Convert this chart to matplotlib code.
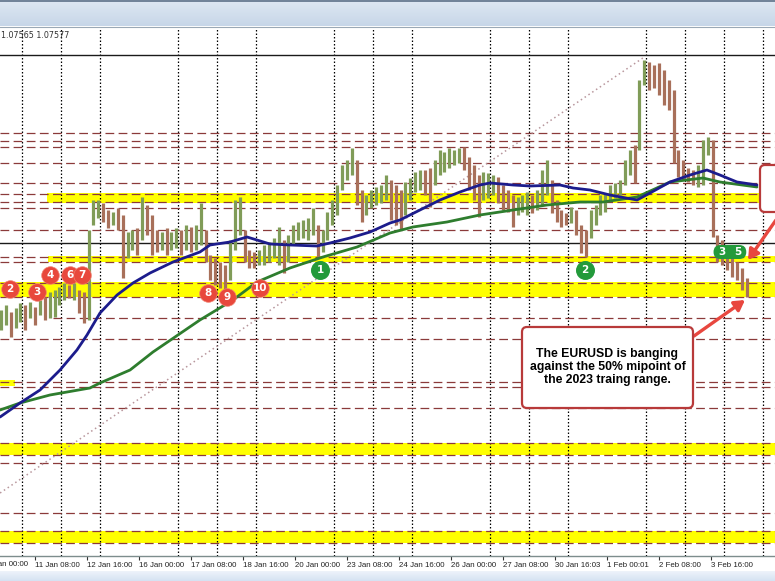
import numpy as np
import matplotlib
matplotlib.use("Agg")
import matplotlib.pyplot as plt
from matplotlib.patches import FancyBboxPatch
from matplotlib.ticker import MultipleLocator
from matplotlib.transforms import IdentityTransform

# ---------------- data (H1 EURUSD, sampled every 3 bars) ----------------
bar_high = [1.0790, 1.0795, 1.0788, 1.0792, 1.0797, 1.0795, 1.0798, 1.0793, 1.0800, 1.0803,
            1.0808, 1.0810, 1.0813, 1.0817, 1.0815, 1.0817, 1.0810, 1.0808, 1.0870, 1.0900,
            1.0900, 1.0897, 1.0890, 1.0888, 1.0892, 1.0885, 1.0868, 1.0870, 1.0872, 1.0903,
            1.0895, 1.0885, 1.0870, 1.0868, 1.0872, 1.0868, 1.0872, 1.0870, 1.0875, 1.0873,
            1.0875, 1.0897, 1.0870, 1.0845, 1.0842, 1.0838, 1.0835, 1.0860, 1.0900, 1.0903,
            1.0870, 1.0850, 1.0848, 1.0850, 1.0855, 1.0858, 1.0862, 1.0873, 1.0860, 1.0865,
            1.0875, 1.0878, 1.0880, 1.0882, 1.0892, 1.0875, 1.0870, 1.0888, 1.0900, 1.0915,
            1.0935, 1.0940, 1.0952, 1.0940, 1.0910, 1.0905, 1.0910, 1.0913, 1.0915, 1.0925,
            1.0920, 1.0915, 1.0910, 1.0918, 1.0922, 1.0928, 1.0930, 1.0930, 1.0932, 1.0940,
            1.0950, 1.0948, 1.0952, 1.0950, 1.0952, 1.0953, 1.0943, 1.0935, 1.0925, 1.0928,
            1.0927, 1.0925, 1.0923, 1.0915, 1.0910, 1.0905, 1.0903, 1.0905, 1.0908, 1.0905,
            1.0910, 1.0930, 1.0940, 1.0920, 1.0900, 1.0890, 1.0887, 1.0893, 1.0890, 1.0875,
            1.0870, 1.0890, 1.0895, 1.0905, 1.0907, 1.0915, 1.0917, 1.0920, 1.0940, 1.0950,
            1.0955, 1.1020, 1.1040, 1.1038, 1.1035, 1.1037, 1.1030, 1.1020, 1.1010, 1.0950,
            1.0940, 1.0932, 1.0930, 1.0935, 1.0960, 1.0963, 1.0960, 1.0865, 1.0860, 1.0855,
            1.0845, 1.0838, 1.0832, 1.0822]
bar_low = [1.0770, 1.0775, 1.0763, 1.0772, 1.0778, 1.0770, 1.0782, 1.0775, 1.0785, 1.0780,
           1.0782, 1.0783, 1.0795, 1.0800, 1.0802, 1.0800, 1.0787, 1.0777, 1.0780, 1.0875,
           1.0882, 1.0878, 1.0872, 1.0875, 1.0870, 1.0822, 1.0842, 1.0850, 1.0845, 1.0860,
           1.0865, 1.0845, 1.0848, 1.0850, 1.0845, 1.0850, 1.0852, 1.0845, 1.0850, 1.0848,
           1.0850, 1.0855, 1.0838, 1.0820, 1.0815, 1.0812, 1.0808, 1.0820, 1.0850, 1.0865,
           1.0838, 1.0832, 1.0832, 1.0835, 1.0835, 1.0838, 1.0842, 1.0835, 1.0827, 1.0838,
           1.0855, 1.0860, 1.0862, 1.0860, 1.0865, 1.0843, 1.0848, 1.0860, 1.0875, 1.0885,
           1.0910, 1.0920, 1.0925, 1.0895, 1.0878, 1.0885, 1.0892, 1.0895, 1.0897, 1.0900,
           1.0880, 1.0875, 1.0870, 1.0885, 1.0900, 1.0908, 1.0910, 1.0905, 1.0893, 1.0915,
           1.0925, 1.0928, 1.0932, 1.0935, 1.0937, 1.0930, 1.0910, 1.0900, 1.0883, 1.0900,
           1.0902, 1.0905, 1.0897, 1.0890, 1.0888, 1.0873, 1.0885, 1.0888, 1.0885, 1.0887,
           1.0890, 1.0895, 1.0905, 1.0887, 1.0878, 1.0873, 1.0875, 1.0877, 1.0865, 1.0847,
           1.0843, 1.0862, 1.0875, 1.0885, 1.0888, 1.0900, 1.0902, 1.0905, 1.0915, 1.0925,
           1.0917, 1.0950, 1.1015, 1.1010, 1.1012, 1.1005, 1.0995, 1.0990, 1.0937, 1.0923,
           1.0920, 1.0918, 1.0915, 1.0913, 1.0915, 1.0945, 1.0863, 1.0838, 1.0835, 1.0830,
           1.0823, 1.0820, 1.0810, 1.0803]

tick_bars = [0, 32, 64, 96, 128, 160, 192, 224, 256, 288, 320, 352, 384, 416, 448]
tick_labels = ["10 Jan 00:00", "11 Jan 08:00", "12 Jan 16:00", "16 Jan 00:00", "17 Jan 08:00",
               "18 Jan 16:00", "20 Jan 00:00", "23 Jan 08:00", "24 Jan 16:00", "26 Jan 00:00",
               "27 Jan 08:00", "30 Jan 16:03", "1 Feb 00:01", "2 Feb 08:00", "3 Feb 16:00"]

ma100_x = [10.5, 22.8, 35.1, 47.4, 57.8, 64, 72, 82.5, 92.3, 102.8, 116.9, 133.5, 139.7, 152,
           162.5, 168.6, 176.6, 188.9, 205.5, 213.5, 225.8, 238.2, 250.5, 256.6, 268.9, 281.2,
           293.5, 305.8, 312, 326.2, 336.6, 355.1, 363.1, 373.5, 385.8, 402.5, 410.5, 422.8,
           435.1, 445.5, 453.5, 464, 476.3]
ma100_y = [1.0683, 1.0697, 1.0710, 1.0730, 1.0750, 1.0765, 1.0787, 1.0805, 1.0817, 1.0827,
           1.0838, 1.0848, 1.0855, 1.0858, 1.0863, 1.0860, 1.0856, 1.0855, 1.0854, 1.0857,
           1.0862, 1.0868, 1.0877, 1.0880, 1.0890, 1.0900, 1.0908, 1.0915, 1.0917, 1.0915,
           1.0914, 1.0915, 1.0912, 1.0910, 1.0905, 1.0900, 1.0907, 1.0918, 1.0925, 1.0930,
           1.0925, 1.0918, 1.0915]
ma200_x = [10.5, 22.8, 41.2, 65.8, 72, 90.5, 104.6, 133.5, 153.8, 168.6, 188.9, 209.2, 230.2,
           250.5, 264.6, 285.5, 305.8, 326.2, 347.1, 367.4, 381.5, 402.5, 422.8, 443.1, 453.5,
           476.3]
ma200_y = [1.0690, 1.0697, 1.0705, 1.0712, 1.0717, 1.0730, 1.0748, 1.0780, 1.0800, 1.0818,
           1.0832, 1.0843, 1.0853, 1.0867, 1.0873, 1.0878, 1.0885, 1.0890, 1.0895, 1.0898,
           1.0898, 1.0903, 1.0918, 1.0922, 1.0918, 1.0913]

trend_x = [10.5, 407.0]
trend_y = [1.0607, 1.1043]

dashed_levels = [1.0967, 1.0959, 1.0953, 1.0937, 1.0917, 1.0906, 1.0898, 1.0892, 1.0870,
                 1.0843, 1.0838, 1.0817, 1.0803, 1.0761, 1.0718, 1.0713, 1.0692,
                 1.0657, 1.0645, 1.0637, 1.0587, 1.0569, 1.0557]
partial_dashed_levels = [1.0782]
solid_levels = [1.1045, 1.0857]
yellow_zones = [(1.0897, 1.0907), (1.0838, 1.0844), (1.0803, 1.0818),
                (1.0645, 1.0657), (1.0557, 1.0569)]
yellow_zone_start = [0.06, 0.062, 0.0, 0.0, 0.0]
small_yellow_zone = (1.0714, 1.0720)

red_labels = ["2", "3", "4", "6", "7", "8", "9", "10"]
red_x = [16.5, 33.2, 41.2, 53.5, 61.0, 138.5, 150.0, 170.5]
red_y = [1.0811, 1.0808, 1.0825, 1.0825, 1.0825, 1.0807, 1.0803, 1.0812]
green_labels = ["1", "2"]
green_x = [207.4, 370.5]
green_y = [1.0830, 1.0830]
pill_labels = ["3", "5"]
pill_x = [454.5, 464.8]
pill_y = [1.0848, 1.0848]

# ---------------- figure ----------------
W, H = 775, 581
fig = plt.figure(figsize=(W / 100, H / 100), dpi=100)
fig.patch.set_facecolor("white")

# header band
hax = fig.add_axes([0, 1 - 26 / H, 1, 26 / H])
grad = np.linspace(0, 1, 26)[:, None]
top = np.array([0.87, 0.91, 0.95])
bot = np.array([0.78, 0.84, 0.91])
img = top[None, None, :] * (1 - grad[:, :, None]) + bot[None, None, :] * grad[:, :, None]
img[:2] = np.array([0.45, 0.52, 0.60])
hax.imshow(img, aspect="auto", extent=[0, 1, 0, 1])
hax.axis("off")

# bottom band
bax = fig.add_axes([0, 0, 1, 10 / H])
bgrad = np.linspace(0, 1, 10)[:, None]
bimg = np.array([0.93, 0.95, 0.98])[None, None, :] * (1 - bgrad[:, :, None]) + \
       np.array([0.84, 0.89, 0.95])[None, None, :] * bgrad[:, :, None]
bax.imshow(bimg, aspect="auto", extent=[0, 1, 0, 1])
bax.axis("off")

ax = fig.add_axes([0, (H - 556) / H, 1, (556 - 27) / H])
ax.set_facecolor("white")

# x axis ticks first (set_xticks may widen limits), then fix limits
ax.set_xticks(tick_bars)
ax.set_xticklabels(tick_labels, fontsize=5.7, family="Liberation Sans", color="#222222",
                   ha="left")
ax.xaxis.set_minor_locator(MultipleLocator(24))
ax.set_yticks([])

# yellow zones
for (lo, hi), xs in zip(yellow_zones, yellow_zone_start):
    ax.axhspan(lo, hi, xmin=xs, xmax=1, color="#ffff00", lw=0, zorder=0.2)
ax.axhspan(small_yellow_zone[0], small_yellow_zone[1], xmin=0, xmax=0.019,
           color="#ffff00", lw=0, zorder=0.2)

# vertical dotted grid on minor ticks
ax.grid(which="minor", axis="x", color="black", lw=0.9, linestyle=(0, (1.2, 1.6)))
ax.set_axisbelow(True)

# horizontal levels
for lv in dashed_levels:
    ax.axhline(lv, color="#8b3a3a", lw=0.9, linestyle=(0, (7, 3.5)), zorder=1.5)
for lv in partial_dashed_levels:
    ax.axhline(lv, xmin=0.068, color="#8b3a3a", lw=0.9, linestyle=(0, (7, 3.5)), zorder=1.5)
for lv in solid_levels:
    ax.axhline(lv, color="#1a1a1a", lw=1.0, zorder=1.5)

# trend line
ax.plot(trend_x, trend_y, color="#b8969c", lw=1.1, linestyle=(0, (1, 2)), zorder=1.8)

# price bars
n = len(bar_high)
bx = 11 + 3 * np.arange(n)
hi = np.array(bar_high)
lo = np.array(bar_low)
mid = (hi + lo) / 2
up = np.r_[True, mid[1:] >= mid[:-1]]
cols = np.where(up, "#809c58", "#a8705a")
ax.vlines(bx, lo, hi, colors=cols, lw=2.3, zorder=3)

# moving averages
ax.plot(ma200_x, ma200_y, color="#2e7d2e", lw=2.0, zorder=4, solid_capstyle="round")
ax.plot(ma100_x, ma100_y, color="#1c1c8c", lw=2.0, zorder=4.1, solid_capstyle="round")

ax.set_xlim(10.46, 487.4)
ax.set_ylim(1.0544, 1.1073)

# partially visible first date label (left of the view, as in the terminal)
fig.text(-17 / W, (H - 564) / H, tick_labels[0], fontsize=5.7, family="Liberation Sans",
         color="#222222", ha="left", va="center")

# labels
ax.scatter(red_x, red_y, s=160, color="#e8483c", edgecolor="#f08070", lw=0.5, zorder=6)
for t, x, y in zip(red_labels, red_x, red_y):
    ax.text(x, y, t, color="white", fontsize=7.5, fontweight="bold", ha="center",
            va="center", zorder=7)
ax.scatter(green_x, green_y, s=160, color="#239a3b", zorder=6)
for t, x, y in zip(green_labels, green_x, green_y):
    ax.text(x, y, t, color="white", fontsize=7.5, fontweight="bold", ha="center",
            va="center", zorder=7)
# green pill
p0 = ax.transData.transform((pill_x[0], pill_y[0]))
p1 = ax.transData.transform((pill_x[-1], pill_y[-1]))
pill = FancyBboxPatch((p0[0] - 8, p0[1] - 7), (p1[0] - p0[0]) + 16, 14,
                      boxstyle="round,pad=0,rounding_size=7", transform=IdentityTransform(),
                      fc="#239a3b", ec="none", zorder=6)
fig.add_artist(pill)
for t, x, y in zip(pill_labels, pill_x, pill_y):
    fig.text(*fig.transFigure.inverted().transform(ax.transData.transform((x, y))), t,
             color="white", fontsize=7.5, fontweight="bold", ha="center", va="center", zorder=8)

ax.tick_params(axis="x", which="major", length=3, width=0.8, pad=1.5, color="#333333",
               direction="out")
ax.tick_params(axis="x", which="minor", length=0)
for s in ["top", "left", "right"]:
    ax.spines[s].set_visible(False)
ax.spines["bottom"].set_color("#7d8d8d")
ax.spines["bottom"].set_linewidth(1.0)

# top-left value text
fig.text(1 / W, 1 - 35 / H, "1.07565 1.07577", fontsize=5.8, color="#333333",
         va="center", ha="left", family="DejaVu Sans")
fig.add_artist(plt.Line2D([0, 1], [1 - 26.5 / H, 1 - 26.5 / H], color="#9aa8b5", lw=0.8,
                          transform=fig.transFigure))

# annotation box
box = FancyBboxPatch((522, H - 408), 171, 81, boxstyle="round,pad=0,rounding_size=5",
                     transform=IdentityTransform(), fc="white", ec="#b83a3a", lw=1.6, zorder=10)
fig.add_artist(box)
fig.text(607.5 / W, 1 - 367 / H,
         "The EURUSD is banging\nagainst the 50% mipoint of\nthe 2023 traing range.",
         ha="center", va="center", fontsize=8.8, fontweight="bold", family="Liberation Sans",
         color="black", linespacing=1.15, zorder=11)
fig.add_artist(FancyBboxPatch((760, H - 212), 40, 47, boxstyle="round,pad=0,rounding_size=5",
                              transform=IdentityTransform(), fc="white", ec="#b83a3a",
                              lw=1.6, zorder=10))

ax.annotate("", xy=(745, H - 300), xycoords="figure pixels", xytext=(694, H - 336),
            textcoords="figure pixels",
            arrowprops=dict(arrowstyle="-|>,head_length=0.6,head_width=0.35", color="#e8473f",
                            lw=2.4, shrinkA=0, shrinkB=0), zorder=12)
ax.annotate("", xy=(748, H - 260), xycoords="figure pixels", xytext=(776, H - 220),
            textcoords="figure pixels",
            arrowprops=dict(arrowstyle="-|>,head_length=0.6,head_width=0.35", color="#e8473f",
                            lw=2.4, shrinkA=0, shrinkB=0), zorder=12)

fig.savefig("out.png", dpi=100)
